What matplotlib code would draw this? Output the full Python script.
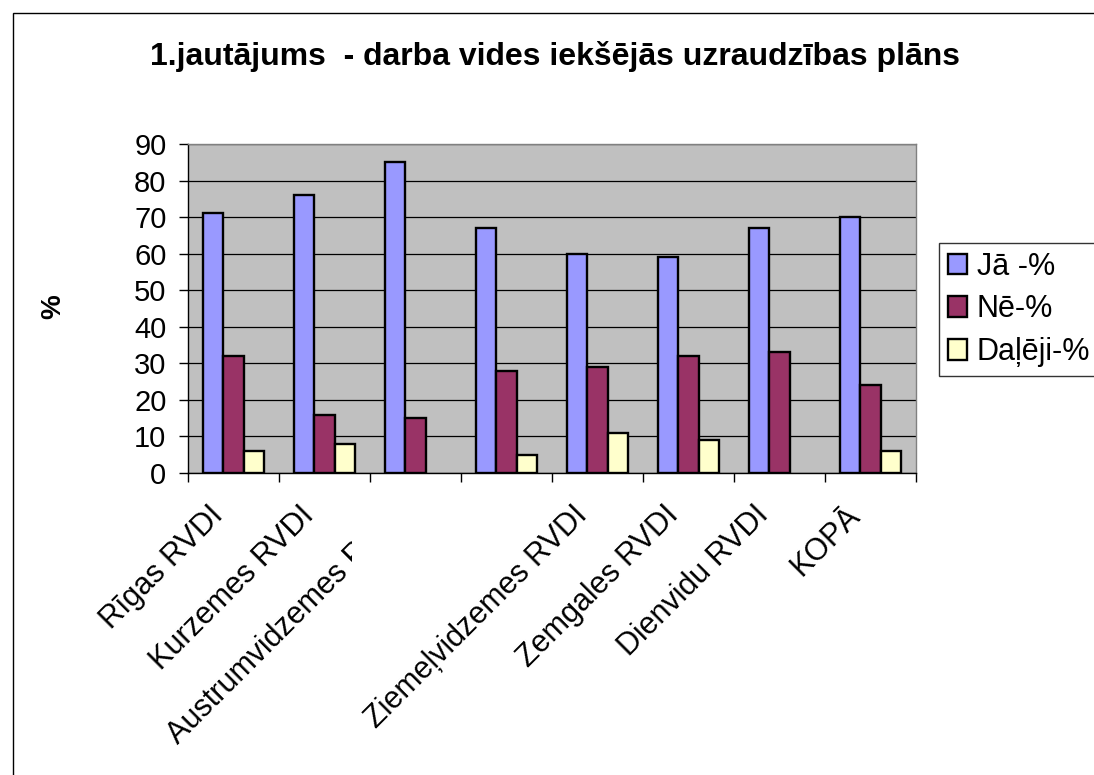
import matplotlib
matplotlib.use("Agg")
import matplotlib.pyplot as plt
import numpy as np
from matplotlib.patches import Rectangle
from matplotlib.transforms import Bbox

plt.rcParams['font.family'] = ['Liberation Sans', 'DejaVu Sans']

title = "1.jautājums  - darba vides iekšējās uzraudzības plāns"
categories = ["Rīgas RVDI", "Kurzemes RVDI", "Austrumvidzemes RVDI", "",
              "Ziemeļvidzemes RVDI", "Zemgales RVDI", "Dienvidu RVDI", "KOPĀ"]
series_names = ["Jā -%", "Nē-%", "Daļēji-%"]
ja = [71, 76, 85, 67, 60, 59, 67, 70]
ne = [32, 16, 15, 28, 29, 32, 33, 24]
daleji = [6, 8, 0, 5, 11, 9, 0, 6]
yticks = [0, 10, 20, 30, 40, 50, 60, 70, 80, 90]
colors = ["#9999FF", "#993366", "#FFFFCC"]

W, H = 1094, 775
fig = plt.figure(figsize=(W / 100, H / 100), dpi=100)
fig.patch.set_facecolor("white")

# outer chart border
fig.patches.append(Rectangle((13 / W, -0.1), 1.2, 1 - 13 / H + 0.1,
                             transform=fig.transFigure, fill=False,
                             edgecolor="black", linewidth=1.0))

ax = fig.add_axes([188 / W, 1 - 473 / H, (916 - 188) / W, (473 - 144) / H])
ax.set_facecolor("#C0C0C0")

x = np.arange(len(categories))
bw = 1 / 4.5
for j, (vals, c, name) in enumerate(zip([ja, ne, daleji], colors, series_names)):
    bars = ax.bar(x + (j - 1) * bw, vals, width=bw, color=c, edgecolor="black",
                  linewidth=1.7, label=name, zorder=3)
    for b, v in zip(bars, vals):
        if v == 0:
            b.set_linewidth(0)

ax.set_xlim(-0.5, len(categories) - 0.5)
ax.set_ylim(0, 90)
ax.set_yticks(yticks)
ax.yaxis.grid(True, color="black", linewidth=0.9, zorder=1)
ax.set_axisbelow(True)
for s in ["top", "right"]:
    ax.spines[s].set_visible(True)
    ax.spines[s].set_color("#808080")
    ax.spines[s].set_linewidth(1.0)
for s in ["left", "bottom"]:
    ax.spines[s].set_color("black")
    ax.spines[s].set_linewidth(1.0)

ax.tick_params(axis="y", direction="out", length=6.5, width=1, labelsize=21, pad=9)
ax.set_xticks(np.arange(len(categories) + 1) - 0.5)
ax.set_xticklabels([])
ax.tick_params(axis="x", direction="out", length=6.5, width=1)

# category labels
for i, lab in enumerate(categories):
    t = ax.text(i - 0.28, -7.5, lab, rotation=45, ha="right", va="top",
                rotation_mode="anchor", fontsize=22,
                transform=ax.transData, clip_on=False)
    if i == 2:
        t.set_clip_on(True)
        t.set_clip_box(Bbox.from_extents(0, 0, 352, H))

fig.text(53 / W, 1 - 307 / H, "%", rotation=90, ha="center", va="center",
         fontsize=20, fontweight="bold")

fig.text(555 / W, 1 - 57 / H, title, ha="center", va="center",
         fontsize=23, fontweight="bold")

leg = fig.legend(loc="upper left", bbox_to_anchor=(939 / W, 1 - 243 / H),
                 frameon=True, fancybox=False, edgecolor="black",
                 fontsize=22, handlelength=0.65, handleheight=0.65,
                 handletextpad=0.3, borderpad=0.28, labelspacing=0.42,
                 borderaxespad=0)
leg.get_frame().set_linewidth(1.0)

fig.savefig("out.png", dpi=100)
